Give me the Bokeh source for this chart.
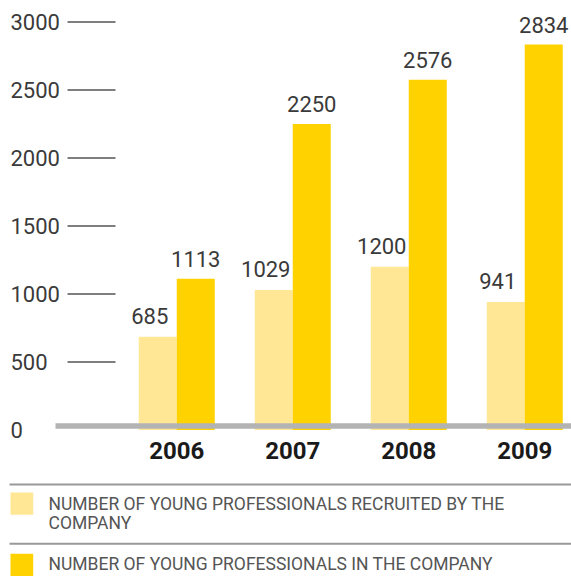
from bokeh.plotting import figure
from bokeh.models import Range1d
from bokeh.core.properties import value
from bokeh.embed import file_html
from bokeh.resources import INLINE

# ---- data ----
years = ["2006", "2007", "2008", "2009"]
recruited = [685, 1029, 1200, 941]
in_company = [1113, 2250, 2576, 2834]
y_ticks = [0, 500, 1000, 1500, 2000, 2500, 3000]
legend_labels = [
    "NUMBER OF YOUNG PROFESSIONALS RECRUITED BY THE\nCOMPANY",
    "NUMBER OF YOUNG PROFESSIONALS IN THE COMPANY",
]
colors = ["#FFE796", "#FFD200"]

# ---- layout ----
W, H = 571, 578
PX_PER_CAT = 116.0
PX_PER_UNIT = 0.136
ZERO_PX = 429.5
X0_PX = 176.25
X_START = -X0_PX / PX_PER_CAT
X_END = X_START + W / PX_PER_CAT
Y_TOP = ZERO_PX / PX_PER_UNIT
Y_BOT = -(H - ZERO_PX) / PX_PER_UNIT


def px_x(px):
    return X_START + px / PX_PER_CAT


def px_y(py):
    return Y_TOP - py / PX_PER_UNIT


BAR_W = 38 / PX_PER_CAT
FONT = value("Roboto")

p = figure(width=W, height=H, x_range=Range1d(X_START, X_END),
           y_range=Range1d(Y_BOT, Y_TOP), output_backend="svg",
           toolbar_location=None, min_border=0,
           x_axis_location=None, y_axis_location=None)
p.grid.visible = False
p.outline_line_color = None
p.background_fill_color = "white"
p.border_fill_color = "white"

xs = list(range(len(years)))
x_light = [x - BAR_W / 2 for x in xs]
x_dark = [x + BAR_W / 2 for x in xs]

# bars
p.vbar(x=x_light, top=recruited, bottom=0, width=BAR_W, fill_color=colors[0], line_color=None)
p.vbar(x=x_dark, top=in_company, bottom=0, width=BAR_W, fill_color=colors[1], line_color=None)

# baseline
p.segment(x0=[px_x(55)], y0=[px_y(425.5)], x1=[X_END], y1=[px_y(425.5)],
          line_color="#b3b3b3", line_width=5.5)

# y ticks (short lines) and labels
tick_vals = [t for t in y_ticks if t > 0]
p.segment(x0=[px_x(67)] * len(tick_vals), y0=tick_vals,
          x1=[px_x(115)] * len(tick_vals), y1=tick_vals,
          line_color="#555555", line_width=1.5)
p.text(x=[px_x(10)] * len(y_ticks), y=y_ticks, text=[str(t) for t in y_ticks],
       text_font=FONT, text_font_size="22px", text_color="#3a3a3a",
       text_align="left", text_baseline="middle")

# value labels
p.text(x=x_light, y=recruited, text=[str(v) for v in recruited],
       text_font=FONT, text_font_size="22px", text_color="#3a3a3a",
       text_align="center", text_baseline="alphabetic", x_offset=-8, y_offset=-21)
p.text(x=x_dark, y=in_company, text=[str(v) for v in in_company],
       text_font=FONT, text_font_size="22px", text_color="#3a3a3a",
       text_align="center", text_baseline="alphabetic", y_offset=-20)

# year labels
p.text(x=xs, y=[px_y(450)] * len(xs), text=years,
       text_font=FONT, text_font_size="24px", text_font_style="bold",
       text_color="#1a1a1a", text_align="center", text_baseline="middle")

# legend
sep_px = [484, 543.3]
sw_top = [492, 553.3]
text_rows = [[503, 522], [563]]
for i, lab in enumerate(legend_labels):
    p.segment(x0=[px_x(9)], y0=[px_y(sep_px[i])], x1=[X_END], y1=[px_y(sep_px[i])],
              line_color="#999999", line_width=2)
    p.quad(left=[px_x(10)], right=[px_x(32.7)], top=[px_y(sw_top[i])],
           bottom=[px_y(sw_top[i] + 22.3)], fill_color=colors[i], line_color=None)
    lines = lab.split("\n")
    p.text(x=[px_x(48)] * len(lines), y=[px_y(r) for r in text_rows[i]], text=lines,
           text_font=FONT, text_font_size="17.5px", text_color="#555555",
           text_align="left", text_baseline="middle")

open("out.html", "w").write(file_html(p, INLINE))
